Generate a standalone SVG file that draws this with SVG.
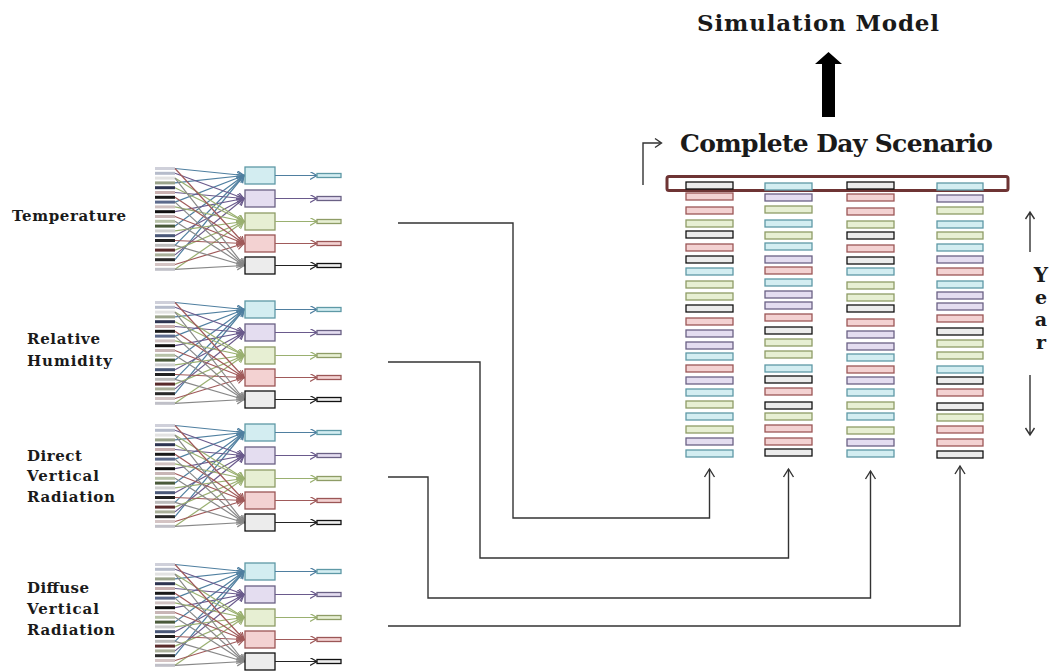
<svg xmlns="http://www.w3.org/2000/svg" xmlns:xlink="http://www.w3.org/1999/xlink" width="1051" height="671" viewBox="0 0 1051 671">
<style>
text{font-family:"DejaVu Serif","Liberation Serif",serif;font-weight:bold;fill:#1a1a1a}
.lbl{font-size:15px}
.c{fill:#d3edf1;stroke:#5e99a6;stroke-width:1.3}
.l{fill:#e4ddf0;stroke:#6a6185;stroke-width:1.3}
.g{fill:#e7efd3;stroke:#8e9c66;stroke-width:1.3}
.p{fill:#f3d2d2;stroke:#9b5656;stroke-width:1.3}
.w{fill:#ececec;stroke:#111;stroke-width:1.3}
.conn{fill:none;stroke:#333;stroke-width:1.4}
.ib{stroke:none}
</style>
<defs>
<marker id="mC" markerWidth="10" markerHeight="10" refX="7" refY="4" orient="auto" markerUnits="userSpaceOnUse"><path d="M0,0 L7,4 L0,8" fill="none" stroke="#4f7fa0" stroke-width="1.2"/></marker>
<marker id="mL" markerWidth="10" markerHeight="10" refX="7" refY="4" orient="auto" markerUnits="userSpaceOnUse"><path d="M0,0 L7,4 L0,8" fill="none" stroke="#6a5a8c" stroke-width="1.2"/></marker>
<marker id="mG" markerWidth="10" markerHeight="10" refX="7" refY="4" orient="auto" markerUnits="userSpaceOnUse"><path d="M0,0 L7,4 L0,8" fill="none" stroke="#9ab070" stroke-width="1.2"/></marker>
<marker id="mP" markerWidth="10" markerHeight="10" refX="7" refY="4" orient="auto" markerUnits="userSpaceOnUse"><path d="M0,0 L7,4 L0,8" fill="none" stroke="#a05a5a" stroke-width="1.2"/></marker>
<marker id="mW" markerWidth="10" markerHeight="10" refX="7" refY="4" orient="auto" markerUnits="userSpaceOnUse"><path d="M0,0 L7,4 L0,8" fill="none" stroke="#888" stroke-width="1.2"/></marker>
<marker id="mK" markerWidth="10" markerHeight="10" refX="7" refY="4" orient="auto" markerUnits="userSpaceOnUse"><path d="M0,0 L7,4 L0,8" fill="none" stroke="#222" stroke-width="1.2"/></marker>
<g id="net">
  <g class="ib">
    <rect x="0" y="0" width="20" height="3" fill="#cfd0da"/>
    <rect x="0" y="4.8" width="20" height="3" fill="#b6bccb"/>
    <rect x="0" y="9.6" width="20" height="3" fill="#e2e2e2"/>
    <rect x="0" y="14.4" width="20" height="3" fill="#9aa38a"/>
    <rect x="0" y="19.2" width="20" height="3" fill="#2e3552"/>
    <rect x="0" y="24" width="20" height="3" fill="#c9b0b0"/>
    <rect x="0" y="28.8" width="20" height="3" fill="#1a1a1a"/>
    <rect x="0" y="33.6" width="20" height="3" fill="#5c6a8c"/>
    <rect x="0" y="38.4" width="20" height="3" fill="#d0c2c2"/>
    <rect x="0" y="43.2" width="20" height="3" fill="#111"/>
    <rect x="0" y="48" width="20" height="3" fill="#c8b6b6"/>
    <rect x="0" y="52.8" width="20" height="3" fill="#b8c2a8"/>
    <rect x="0" y="57.6" width="20" height="3" fill="#4a5a3a"/>
    <rect x="0" y="62.4" width="20" height="3" fill="#cfcfcf"/>
    <rect x="0" y="67.2" width="20" height="3" fill="#4a5878"/>
    <rect x="0" y="72" width="20" height="3" fill="#222"/>
    <rect x="0" y="76.8" width="20" height="3" fill="#bcbcbc"/>
    <rect x="0" y="81.6" width="20" height="3" fill="#5a2c2c"/>
    <rect x="0" y="86.4" width="20" height="3" fill="#aab09a"/>
    <rect x="0" y="91.2" width="20" height="3" fill="#2a2a2a"/>
    <rect x="0" y="96" width="20" height="3" fill="#d4c4c4"/>
    <rect x="0" y="100.8" width="20" height="3" fill="#c0c0c8"/>
  </g>
  <g fill="none" stroke-width="1.2">
    <g stroke="#4f7fa0" marker-end="url(#mC)">
      <path d="M20,1.5 L89,8.5"/><path d="M20,15.9 L89,8.5"/><path d="M20,35.1 L89,8.5"/><path d="M20,59.1 L89,8.5"/><path d="M20,78.3 L89,8.5"/><path d="M20,92.7 L89,8.5"/>
    </g>
    <g stroke="#6a5a8c" marker-end="url(#mL)">
      <path d="M20,6.3 L89,31.5"/><path d="M20,25.5 L89,31.5"/><path d="M20,44.7 L89,31.5"/><path d="M20,68.7 L89,31.5"/><path d="M20,87.9 L89,31.5"/>
    </g>
    <g stroke="#9ab070" marker-end="url(#mG)">
      <path d="M20,11.1 L89,54.5"/><path d="M20,20.7 L89,54.5"/><path d="M20,39.9 L89,54.5"/><path d="M20,63.9 L89,54.5"/><path d="M20,83.1 L89,54.5"/><path d="M20,102.3 L89,54.5"/>
    </g>
    <g stroke="#a05a5a" marker-end="url(#mP)">
      <path d="M20,1.5 L89,76.5"/><path d="M20,30.3 L89,76.5"/><path d="M20,49.5 L89,76.5"/><path d="M20,73.5 L89,76.5"/><path d="M20,97.5 L89,76.5"/>
    </g>
    <g stroke="#888" marker-end="url(#mW)">
      <path d="M20,11.1 L89,98.5"/><path d="M20,35.1 L89,98.5"/><path d="M20,54.3 L89,98.5"/><path d="M20,78.3 L89,98.5"/><path d="M20,102.3 L89,98.5"/>
    </g>
  </g>
  <rect x="90" y="0" width="30" height="17" class="c"/>
  <rect x="90" y="23" width="30" height="17" class="l"/>
  <rect x="90" y="46" width="30" height="17" class="g"/>
  <rect x="90" y="68" width="30" height="17" class="p"/>
  <rect x="90" y="90" width="30" height="17" class="w"/>
  <g fill="none" stroke-width="1.2">
    <path d="M120,8.5 H162" stroke="#4f7fa0" marker-end="url(#mC)"/>
    <path d="M120,31.5 H162" stroke="#6a5a8c" marker-end="url(#mL)"/>
    <path d="M120,54.5 H162" stroke="#9ab070" marker-end="url(#mG)"/>
    <path d="M120,76.5 H162" stroke="#a05a5a" marker-end="url(#mP)"/>
    <path d="M120,98.5 H162" stroke="#222" marker-end="url(#mK)"/>
  </g>
  <rect x="162" y="6.5" width="24" height="4" class="c" stroke-width="1"/>
  <rect x="162" y="29.5" width="24" height="4" class="l" stroke-width="1"/>
  <rect x="162" y="52.5" width="24" height="4" class="g" stroke-width="1"/>
  <rect x="162" y="74.5" width="24" height="4" class="p" stroke-width="1"/>
  <rect x="162" y="96.5" width="24" height="4" class="w" stroke-width="1"/>
</g>
</defs>

<rect width="1051" height="671" fill="#fff"/>

<g id="title">
  <text x="697" y="31" font-size="23" textLength="242" lengthAdjust="spacing">Simulation Model</text>
  <path d="M822,117 V64 H815 L828.5,52 L842,64 H835 V117 Z" fill="#000"/>
</g>

<g id="complete-day">
  <text x="680" y="152" font-size="25" textLength="313" lengthAdjust="spacing">Complete Day Scenario</text>
  <path d="M643,185 V143 H661" class="conn" stroke-width="1.2"/>
  <path d="M655,138.5 L661.5,143 L655,147.5" class="conn" stroke-width="1.2"/>
  <rect x="667" y="176.5" width="341" height="14" rx="2" fill="none" stroke="#6e3434" stroke-width="3"/>
</g>

<g id="year">
  <path d="M1030,252 V212 M1025.5,219 L1030,212 L1034.5,219" class="conn" stroke-width="1.2"/>
  <text x="1041" y="282" font-size="20" text-anchor="middle">Y</text>
  <text x="1041" y="304" font-size="19" text-anchor="middle">e</text>
  <text x="1041" y="326" font-size="19" text-anchor="middle">a</text>
  <text x="1041" y="349" font-size="19" text-anchor="middle">r</text>
  <path d="M1030,375 V435 M1025.5,428 L1030,435 L1034.5,428" class="conn" stroke-width="1.2"/>
</g>

<g id="temperature">
  <text class="lbl" x="12" y="221" textLength="114" lengthAdjust="spacing">Temperature</text>
  <use xlink:href="#net" href="#net" x="155" y="167"/>
</g>
<g id="relative-humidity">
  <text class="lbl" x="27" y="344" textLength="73" lengthAdjust="spacing">Relative</text>
  <text class="lbl" x="27" y="366" textLength="85" lengthAdjust="spacing">Humidity</text>
  <use xlink:href="#net" href="#net" x="155" y="301"/>
</g>
<g id="direct-vertical-radiation">
  <text class="lbl" x="27" y="461" textLength="55" lengthAdjust="spacing">Direct</text>
  <text class="lbl" x="27" y="481" textLength="72" lengthAdjust="spacing">Vertical</text>
  <text class="lbl" x="27" y="502" textLength="88" lengthAdjust="spacing">Radiation</text>
  <use xlink:href="#net" href="#net" x="155" y="424"/>
</g>
<g id="diffuse-vertical-radiation">
  <text class="lbl" x="27" y="593" textLength="62" lengthAdjust="spacing">Diffuse</text>
  <text class="lbl" x="27" y="614" textLength="72" lengthAdjust="spacing">Vertical</text>
  <text class="lbl" x="27" y="635" textLength="88" lengthAdjust="spacing">Radiation</text>
  <use xlink:href="#net" href="#net" x="155" y="563"/>
</g>

<g id="col1">
  <rect x="686" y="182" width="47" height="7" class="w"/>
  <rect x="686" y="193" width="47" height="7" class="p"/>
  <rect x="686" y="207" width="47" height="7" class="p"/>
  <rect x="686" y="220" width="47" height="7" class="g"/>
  <rect x="686" y="231" width="47" height="7" class="w"/>
  <rect x="686" y="244" width="47" height="7" class="p"/>
  <rect x="686" y="256" width="47" height="7" class="w"/>
  <rect x="686" y="268" width="47" height="7" class="c"/>
  <rect x="686" y="281" width="47" height="7" class="g"/>
  <rect x="686" y="293" width="47" height="7" class="g"/>
  <rect x="686" y="305" width="47" height="7" class="w"/>
  <rect x="686" y="318" width="47" height="7" class="p"/>
  <rect x="686" y="330" width="47" height="7" class="l"/>
  <rect x="686" y="342" width="47" height="7" class="l"/>
  <rect x="686" y="353" width="47" height="7" class="c"/>
  <rect x="686" y="365" width="47" height="7" class="p"/>
  <rect x="686" y="377" width="47" height="7" class="l"/>
  <rect x="686" y="389" width="47" height="7" class="c"/>
  <rect x="686" y="401" width="47" height="7" class="g"/>
  <rect x="686" y="413" width="47" height="7" class="c"/>
  <rect x="686" y="426" width="47" height="7" class="g"/>
  <rect x="686" y="438" width="47" height="7" class="l"/>
  <rect x="686" y="450" width="47" height="7" class="c"/>
</g>
<g id="col2">
  <rect x="765" y="183" width="47" height="7" class="c"/>
  <rect x="765" y="194" width="47" height="7" class="l"/>
  <rect x="765" y="206" width="47" height="7" class="g"/>
  <rect x="765" y="220" width="47" height="7" class="c"/>
  <rect x="765" y="232" width="47" height="7" class="g"/>
  <rect x="765" y="243" width="47" height="7" class="c"/>
  <rect x="765" y="256" width="47" height="7" class="l"/>
  <rect x="765" y="267" width="47" height="7" class="p"/>
  <rect x="765" y="279" width="47" height="7" class="c"/>
  <rect x="765" y="291" width="47" height="7" class="l"/>
  <rect x="765" y="302" width="47" height="7" class="l"/>
  <rect x="765" y="314" width="47" height="7" class="p"/>
  <rect x="765" y="327" width="47" height="7" class="w"/>
  <rect x="765" y="339" width="47" height="7" class="g"/>
  <rect x="765" y="351" width="47" height="7" class="g"/>
  <rect x="765" y="365" width="47" height="7" class="c"/>
  <rect x="765" y="376" width="47" height="7" class="w"/>
  <rect x="765" y="388" width="47" height="7" class="p"/>
  <rect x="765" y="402" width="47" height="7" class="w"/>
  <rect x="765" y="413" width="47" height="7" class="g"/>
  <rect x="765" y="425" width="47" height="7" class="p"/>
  <rect x="765" y="438" width="47" height="7" class="p"/>
  <rect x="765" y="449" width="47" height="7" class="w"/>
</g>
<g id="col3">
  <rect x="847" y="182" width="47" height="7" class="w"/>
  <rect x="847" y="194" width="47" height="7" class="p"/>
  <rect x="847" y="208" width="47" height="7" class="p"/>
  <rect x="847" y="221" width="47" height="7" class="g"/>
  <rect x="847" y="232" width="47" height="7" class="w"/>
  <rect x="847" y="245" width="47" height="7" class="p"/>
  <rect x="847" y="257" width="47" height="7" class="w"/>
  <rect x="847" y="268" width="47" height="7" class="c"/>
  <rect x="847" y="282" width="47" height="7" class="g"/>
  <rect x="847" y="294" width="47" height="7" class="g"/>
  <rect x="847" y="305" width="47" height="7" class="w"/>
  <rect x="847" y="319" width="47" height="7" class="p"/>
  <rect x="847" y="331" width="47" height="7" class="l"/>
  <rect x="847" y="343" width="47" height="7" class="l"/>
  <rect x="847" y="354" width="47" height="7" class="c"/>
  <rect x="847" y="366" width="47" height="7" class="p"/>
  <rect x="847" y="377" width="47" height="7" class="l"/>
  <rect x="847" y="389" width="47" height="7" class="c"/>
  <rect x="847" y="402" width="47" height="7" class="g"/>
  <rect x="847" y="413" width="47" height="7" class="c"/>
  <rect x="847" y="427" width="47" height="7" class="g"/>
  <rect x="847" y="439" width="47" height="7" class="l"/>
  <rect x="847" y="450" width="47" height="7" class="c"/>
</g>
<g id="col4">
  <rect x="937" y="183" width="46" height="7" class="c"/>
  <rect x="937" y="195" width="46" height="7" class="l"/>
  <rect x="937" y="207" width="46" height="7" class="g"/>
  <rect x="937" y="221" width="46" height="7" class="c"/>
  <rect x="937" y="232" width="46" height="7" class="g"/>
  <rect x="937" y="244" width="46" height="7" class="c"/>
  <rect x="937" y="256" width="46" height="7" class="l"/>
  <rect x="937" y="268" width="46" height="7" class="p"/>
  <rect x="937" y="281" width="46" height="7" class="c"/>
  <rect x="937" y="292" width="46" height="7" class="l"/>
  <rect x="937" y="303" width="46" height="7" class="l"/>
  <rect x="937" y="315" width="46" height="7" class="p"/>
  <rect x="937" y="328" width="46" height="7" class="w"/>
  <rect x="937" y="340" width="46" height="7" class="g"/>
  <rect x="937" y="352" width="46" height="7" class="g"/>
  <rect x="937" y="366" width="46" height="7" class="c"/>
  <rect x="937" y="377" width="46" height="7" class="w"/>
  <rect x="937" y="389" width="46" height="7" class="p"/>
  <rect x="937" y="403" width="46" height="7" class="w"/>
  <rect x="937" y="414" width="46" height="7" class="g"/>
  <rect x="937" y="426" width="46" height="7" class="p"/>
  <rect x="937" y="439" width="46" height="7" class="p"/>
  <rect x="937" y="451" width="46" height="7" class="w"/>
</g>

<g id="connectors" class="conn">
  <path d="M398,223 H513 V518 H709.5 V469"/>
  <path d="M388,362 H480 V558 H788.5 V469"/>
  <path d="M388,477 H428 V598 H870.5 V471"/>
  <path d="M388,626 H960 V466"/>
  <path d="M704.5,477 L709.5,469 L714.5,477"/>
  <path d="M783.5,477 L788.5,469 L793.5,477"/>
  <path d="M865.5,479 L870.5,471 L875.5,479"/>
  <path d="M955,474 L960,466 L965,474"/>
</g>
</svg>
